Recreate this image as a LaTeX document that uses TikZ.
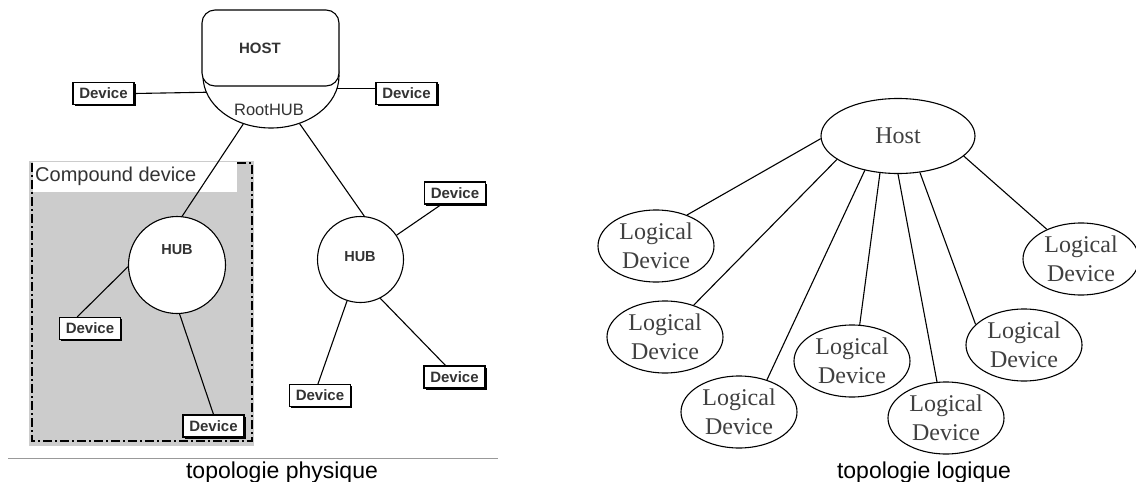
\documentclass[tikz,border=0pt]{standalone}
\usepackage{fontspec}
\setmainfont{Liberation Serif}
\newfontfamily\arial{Liberation Sans}
\usetikzlibrary{shapes.geometric,shadows}

\begin{document}
\begin{tikzpicture}[x=1pt,y=-1pt,
  link/.style={line width=1.1pt},
  devbox/.style={draw, line width=1.1pt, fill=white, minimum width=61pt,
    minimum height=22pt, inner sep=0pt, text=black!80,
    font=\arial\bfseries\fontsize{15}{17}\selectfont,
    general shadow={fill=black, shadow xshift=1.5pt, shadow yshift=-1.5pt}},
  hubnode/.style={draw, circle, line width=1.1pt, fill=white, inner sep=0pt},
  hublabel/.style={text=black!80, font=\arial\bfseries\fontsize{14.5}{17}\selectfont},
  logdev/.style={draw, ellipse, line width=1.1pt, fill=white,
    minimum width=116pt, minimum height=72pt, inner sep=0pt, align=center,
    text=black!75, font=\fontsize{24}{29}\selectfont},
  caption/.style={anchor=base, font=\arial\fontsize{23}{27}\selectfont}
]
\useasboundingbox (0,0) rectangle (1136,482);
\fill[white] (0,0) rectangle (1136,482);

% ---------- physical topology ----------
% compound device frame
\fill[black!20] (29,161) rectangle (254,446);
\draw[line width=1.4pt, dash pattern=on 9pt off 3pt on 2pt off 3pt] (32,163) rectangle (252,441);
\fill[white] (33,162) rectangle (237,192);
\node[anchor=west, inner sep=0pt, text=black!80, font=\arial\fontsize{20}{24}\selectfont]
  (cdlabel) at (35,176) {Compound device};

% host with its root hub
\node[draw, ellipse, line width=1.1pt, fill=white, minimum width=136pt,
  minimum height=104pt, inner sep=0pt] (root) at (271,76) {};
\node[draw, rounded corners=13pt, line width=1.1pt, fill=white, minimum width=137pt,
  minimum height=76pt, inner sep=0pt] (host) at (270.5,48) {};
\node[hublabel, font=\arial\bfseries\fontsize{15}{18}\selectfont] (hostlabel) at (260,48) {HOST};
\node[text=black!80, font=\arial\fontsize{16.5}{19}\selectfont] (roothub) at (269,110) {RootHUB};

\node[devbox] (devL) at (103.5,93.5) {Device};
\node[devbox] (devR) at (406.5,93.5) {Device};
\draw[link] (devL.east) -- (root.194);
\draw[link] (root.349) -- (root.349 -| devR.west);

% hub inside the compound device
\node[hubnode, minimum size=97pt] (hubL) at (177,265) {};
\node[hublabel] (hubLlabel) at (177,250) {HUB};
\node[devbox] (devC1) at (90,328.5) {Device};
\node[devbox] (devC2) at (213.5,426) {Device};
\draw[link] (root.240) -- (hubL.84);
\draw[link] (hubL.182) -- (devC1.138);
\draw[link] (hubL.273) -- (devC2.north);

% external hub
\node[hubnode, minimum size=86pt] (hubR) at (360.5,259.5) {};
\node[hublabel] (hubRlabel) at (360,257) {HUB};
\node[devbox] (devR1) at (455,193) {Device};
\node[devbox] (devR2) at (454.5,377) {Device};
\node[devbox] (devR3) at (320,395.5) {Device};
\draw[link] (root.301) -- (hubR.85);
\draw[link] (hubR.34.5) -- (devR1.220);
\draw[link] (hubR.297) -- (devR2.128);
\draw[link] (hubR.252) -- (devR3.100);

\draw[black!40, line width=1pt] (8,458) -- (498,458);
\node[caption] (capP) at (282,478) {topologie physique};

% ---------- logical topology ----------
\node[draw, ellipse, line width=1.1pt, fill=white, minimum width=154pt,
  minimum height=75pt, inner sep=0pt, text=black!75, font=\fontsize{24}{29}\selectfont]
  (lhost) at (898,136) {Host};
\node[logdev] (ld1) at (656,246) {Logical\\Device};
\node[logdev] (ld2) at (665,337) {Logical\\Device};
\node[logdev] (ld3) at (739,412) {Logical\\Device};
\node[logdev] (ld4) at (852,361) {Logical\\Device};
\node[logdev] (ld5) at (946,418) {Logical\\Device};
\node[logdev] (ld6) at (1024,345) {Logical\\Device};
\node[logdev] (ld7) at (1081,259) {Logical\\Device};
\draw[link] (lhost.182) -- (ld1.45);
\draw[link] (lhost.201) -- (ld2.48);
\draw[link] (lhost.226) -- (ld3.49);
\draw[link] (lhost.244) -- (ld4.78);
\draw[link] (lhost.270) -- (ld5.104);
\draw[link] (lhost.301) -- (ld6.157);
\draw[link] (lhost.343) -- (ld7.139);

\node[caption] (capL) at (924,478) {topologie logique};
\end{tikzpicture}
\end{document}
